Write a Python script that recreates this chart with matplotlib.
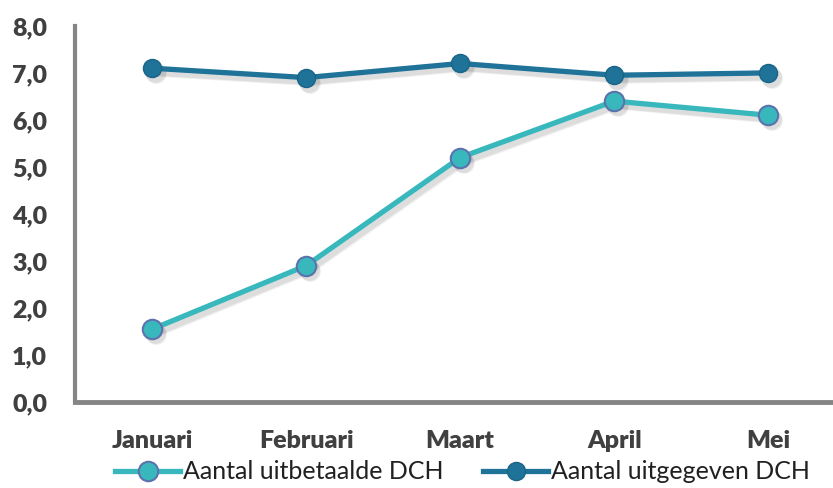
import matplotlib.pyplot as plt
import matplotlib.transforms as mtransforms

months = ['Januari', 'Februari', 'Maart', 'April', 'Mei']
uitbetaald = [1.55, 2.9, 5.2, 6.4, 6.1]
uitgegeven = [7.1, 6.9, 7.2, 6.95, 7.0]
y_ticks = [0, 1, 2, 3, 4, 5, 6, 7, 8]

plt.rcParams['font.family'] = ['Lato', 'DejaVu Sans']

fig = plt.figure(figsize=(8.33, 4.88), dpi=100)
ax = fig.add_axes([0.09, 0.176, 0.91, 0.771])

x = range(len(months))

# soft drop shadow under both series
for dx, dy, a in [(3, -4, 0.08), (4, -5, 0.06)]:
    shadow_tr = mtransforms.offset_copy(ax.transData, fig=fig, x=dx, y=dy, units='dots')
    for ys in (uitbetaald, uitgegeven):
        ax.plot(x, ys, color='#000000', alpha=a, lw=5, marker='o', ms=15,
                mec='none', transform=shadow_tr, zorder=2)

ax.plot(x, uitbetaald, color='#38b8bc', lw=3.8, marker='o', ms=14,
        mfc='#38b8bc', mec='#5b72ad', mew=1.5, label='Aantal uitbetaalde DCH',
        zorder=3)
ax.plot(x, uitgegeven, color='#1f7298', lw=3.8, marker='o', ms=13,
        mfc='#1f7298', mec='#1a6488', mew=1.0, label='Aantal uitgegeven DCH',
        zorder=3)

ax.set_xlim(-0.5, 4.42)
ax.set_ylim(0, 8)
ax.set_yticks(y_ticks)
ax.set_yticklabels([f'{v:.1f}'.replace('.', ',') for v in y_ticks])
ax.set_xticks(list(x))
ax.set_xticklabels(months)
ax.tick_params(length=0, labelsize=18, labelcolor='#404040')
ax.tick_params(axis='y', pad=20)
ax.tick_params(axis='x', pad=20)
for lab in ax.get_xticklabels() + ax.get_yticklabels():
    lab.set_fontweight('heavy')

for s in ['top', 'right']:
    ax.spines[s].set_visible(False)
ax.spines['left'].set_color('#858585')
ax.spines['left'].set_linewidth(3)
ax.spines['bottom'].set_color('#858585')
ax.spines['bottom'].set_linewidth(3.5)

fig.legend(loc='center', bbox_to_anchor=(0.555, 0.033), ncol=2, frameon=False,
           fontsize=18, handlelength=2.6, columnspacing=1.6, handletextpad=0.1,
           labelcolor='#202020')

fig.savefig('out.png', dpi=100)
